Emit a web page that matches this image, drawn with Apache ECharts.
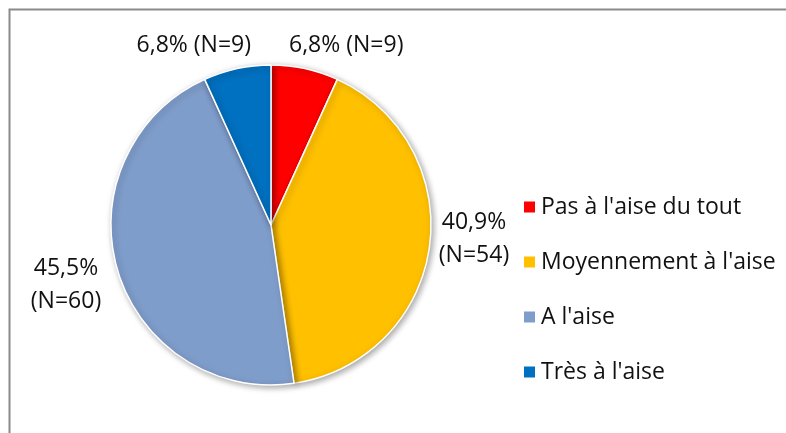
<!DOCTYPE html>
<html><head><meta charset="utf-8">
<script src="https://cdn.jsdelivr.net/npm/echarts@6/dist/echarts.min.js"></script>
<style>html,body{margin:0;padding:0;background:#fff}#c{width:786px;height:433px}</style>
</head><body><div id="c"></div>
<script>
const categories = ["Pas à l'aise du tout", "Moyennement à l'aise", "A l'aise", "Très à l'aise"];
const percents = [6.8, 40.9, 45.5, 6.8];
const counts = [9, 54, 60, 9];
const colors = ['#FF0000', '#FFC000', '#7F9DCB', '#0070C0'];
const labelPos = [
  {x: 289, y: 45, align: 'left'},
  {x: 474, y: 239, align: 'center'},
  {x: 66, y: 285, align: 'center'},
  {x: 251, y: 45, align: 'right'}
];
const twoLine = [false, true, true, false];

const chart = echarts.init(document.getElementById('c'));
const font = "'Open Sans', 'Noto Sans', sans-serif";
chart.setOption({
  animation: false,
  graphic: [{
    type: 'rect', shape: {x: 9.5, y: 9.5, width: 800, height: 450},
    style: {fill: 'none', stroke: '#8a8a8a', lineWidth: 2}, silent: true
  }],
  legend: {
    orient: 'vertical', left: 517, top: 190,
    icon: 'rect', itemWidth: 13, itemHeight: 13, itemGap: 31,
    textStyle: {fontFamily: font, fontSize: 23, lineHeight: 24, color: '#111', padding: [0, 0, 0, 0]},
    data: categories
  },
  series: [{
    type: 'pie', center: [271, 225], radius: 160, startAngle: 90, clockwise: true,
    itemStyle: {borderColor: '#fff', borderWidth: 1.5, shadowBlur: 6, shadowColor: 'rgba(0,0,0,0.35)', shadowOffsetX: 2, shadowOffsetY: 2},
    label: {
      show: true, position: 'outside', fontFamily: font, fontSize: 23, color: '#111', lineHeight: 33,
      overflow: 'none', width: 200,
      formatter: p => {
        const s = percents[p.dataIndex].toFixed(1).replace('.', ',') + '%';
        const n = '(N=' + counts[p.dataIndex] + ')';
        return twoLine[p.dataIndex] ? s + '\n' + n : s + ' ' + n;
      }
    },
    labelLine: {show: false},
    labelLayout: p => ({x: labelPos[p.dataIndex].x, y: labelPos[p.dataIndex].y, align: labelPos[p.dataIndex].align, verticalAlign: 'middle'}),
    emphasis: {disabled: true},
    data: categories.map((c, i) => ({name: c, value: percents[i], itemStyle: {color: colors[i]}}))
  }]
});
</script></body></html>
